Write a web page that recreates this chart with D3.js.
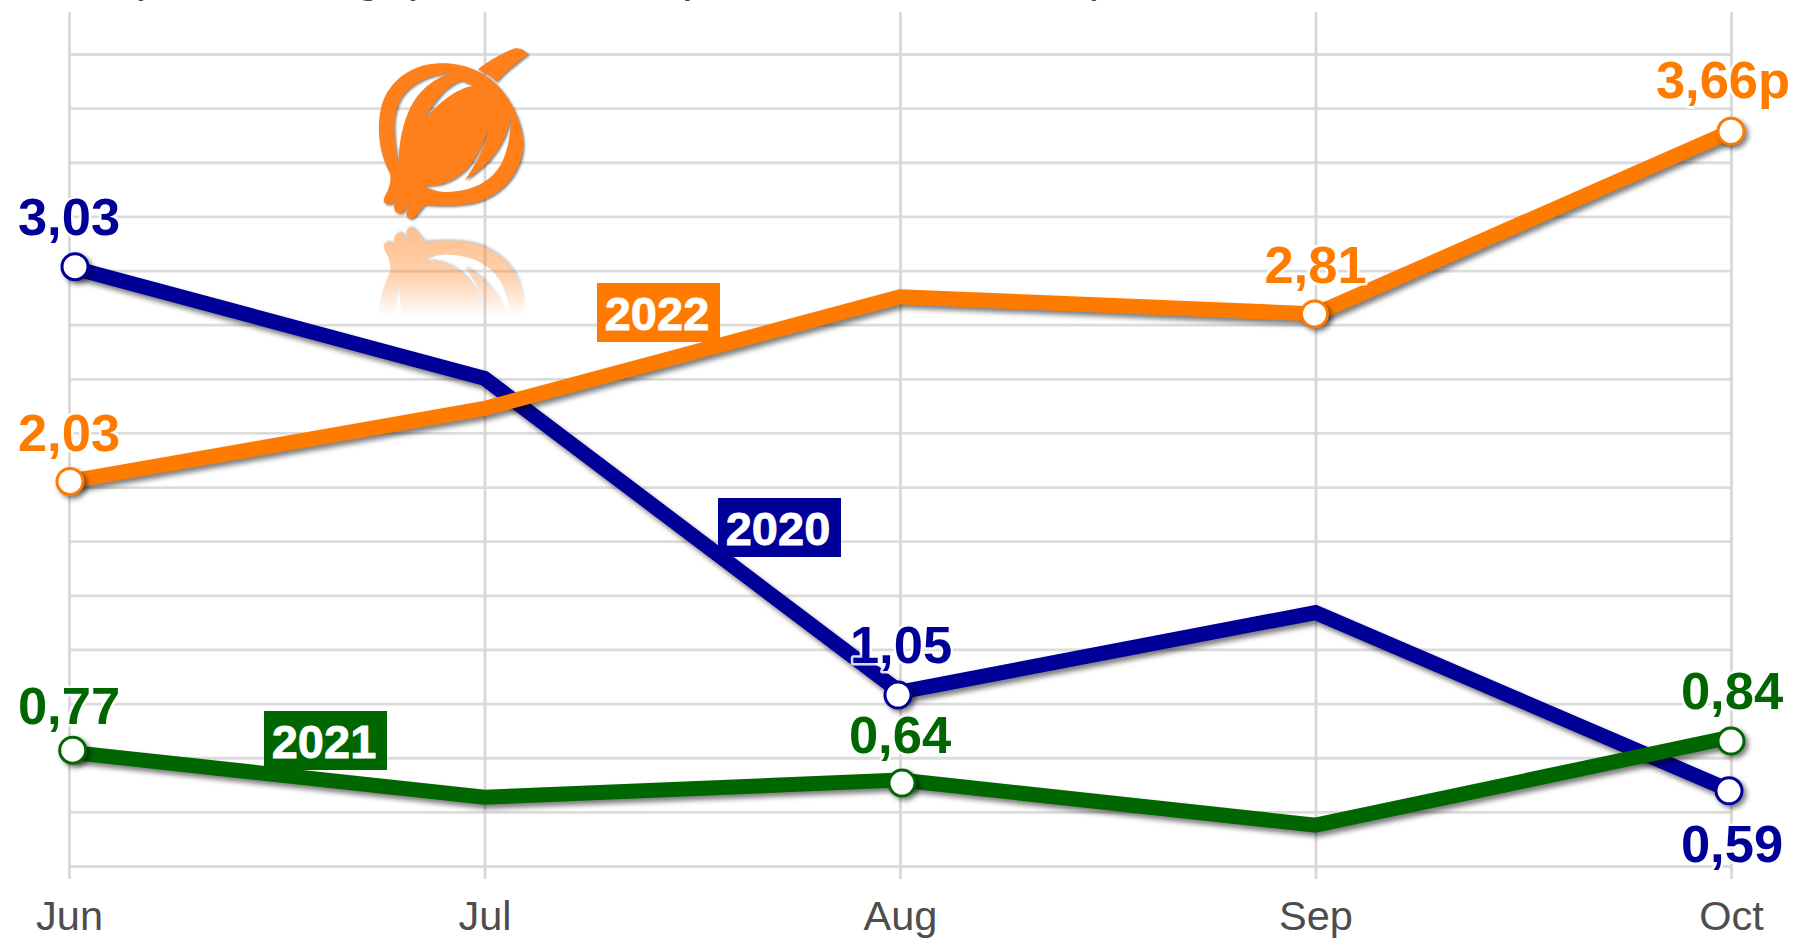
<!DOCTYPE html>
<html>
<head>
<meta charset="utf-8">
<script src="https://cdn.jsdelivr.net/npm/d3@7"></script>
<style>
	body { margin: 0; background: #fff; }
	text { font-family: "Liberation Sans", Arial, sans-serif; }
</style>
</head>
<body>
<div id="chart"></div>
<script>
var months = ['Jun', 'Jul', 'Aug', 'Sep', 'Oct'];
var values2020 = [3.03, 2.51, 1.05, 1.42, 0.59];
var values2021 = [0.77, 0.56, 0.64, 0.43, 0.84];
var values2022 = [2.03, 2.37, 2.89, 2.81, 3.66];
var years = ['2020', '2022', '2021'];
var colors = { '2020': '#000099', '2021': '#006600', '2022': '#ff7b00' };

// which months carry a marker and a value label
var labelled = {
	'2020': [0, 2, 4],
	'2021': [0, 2, 4],
	'2022': [0, 3, 4]
};

var width = 1795,
	height = 940,
	onionColor = '#ff7f1a';

var series = {
	'2020': values2020,
	'2021': values2021,
	'2022': values2022
};

var svg = d3.select('#chart').append('svg')
	.attr('width', width)
	.attr('height', height)
	.style('display', 'block');

var x = d3.scalePoint().domain(months).range([69, 1731]);
var y = d3.scaleLinear().domain([0.24, 4.02]).range([866, 54]);

var defs = svg.append('defs');

// the title of the source is cut off by the top edge, only its descenders remain
var titleBits = [')', 'g', '(', 'p', ')'];
var titleX = [146, 368, 408, 695, 1099];
svg.selectAll('.titleBit')
	.data(titleBits)
	.enter().append('text')
		.attr('class', 'titleBit')
		.attr('x', function(d, i) { return titleX[i]; })
		.attr('y', -9)
		.attr('text-anchor', 'middle')
		.attr('font-size', 46)
		.attr('fill', '#444')
		.text(function(d) { return d; });

// grid
var gridValues = d3.range(16).map(function(i) { return 0.24 + i * 0.252; });

var hGrid = svg.append('g')
	.attr('transform', 'translate(69,0)')
	.call(d3.axisLeft(y).tickValues(gridValues).tickSize(-1662).tickFormat(''));
hGrid.select('.domain').remove();
hGrid.selectAll('line').attr('stroke', '#dcdcdc').attr('stroke-width', 2.8);

var xAxis = svg.append('g')
	.attr('transform', 'translate(0,879)')
	.call(d3.axisBottom(x).tickSize(-867).tickPadding(22));
xAxis.select('.domain').remove();
xAxis.selectAll('line').attr('stroke', '#d8d8d8').attr('stroke-width', 2.8);
xAxis.selectAll('text')
	.attr('font-size', 41.5)
	.attr('font-family', '"Liberation Sans", Arial, sans-serif')
	.attr('fill', '#4d4d4d');

// onion logo, traced at 3x
var onionBody = 'M150,430 C118,370 110,300 122,240 C135,170 200,102 300,100 C370,98 440,125 485,180 ' +
	'C525,230 550,290 550,345 C548,410 505,480 430,510 C385,528 320,530 255,525 ' +
	'C240,540 230,560 215,566 C204,568 196,558 200,545 L212,515 C200,530 192,552 178,550 ' +
	'C165,548 160,535 163,522 L168,510 C160,520 150,526 140,522 C128,518 130,508 135,498 C148,475 155,455 150,430 Z ' +
	'M330,130 C270,135 205,160 178,215 C158,255 158,320 177,402 C175,330 195,240 240,190 C265,160 300,140 330,130 Z ' +
	'M365,152 C320,165 285,210 252,270 C290,225 345,175 402,167 Z ' +
	'M447,290 C430,340 405,400 365,430 C330,460 290,470 250,467 C280,482 300,488 330,486 ' +
	'C400,482 455,455 485,400 C505,360 512,310 513,262 C500,320 470,395 375,450 C410,400 435,350 447,290 Z';
var onionStem = 'M414,118 C450,90 490,68 525,55 C540,53 555,62 565,73 C530,100 495,125 470,155 C455,140 435,128 414,118 Z';

var grad = defs.append('linearGradient').attr('id', 'fade')
	.attr('gradientUnits', 'userSpaceOnUse')
	.attr('x1', 0).attr('y1', 600).attr('x2', 0).attr('y2', 860);
grad.append('stop').attr('offset', 0).attr('stop-color', '#fff').attr('stop-opacity', 0.5);
grad.append('stop').attr('offset', 0.55).attr('stop-color', '#fff').attr('stop-opacity', 0.35);
grad.append('stop').attr('offset', 1).attr('stop-color', '#fff').attr('stop-opacity', 0);
defs.append('mask').attr('id', 'fadeMask')
	.attr('maskUnits', 'userSpaceOnUse')
	.attr('x', 0).attr('y', 560).attr('width', 700).attr('height', 320)
	.append('rect')
		.attr('x', 0).attr('y', 560).attr('width', 700).attr('height', 320)
		.attr('fill', 'url(#fade)');

var logo = svg.append('g').attr('transform', 'translate(340,30) scale(0.3333)');

function drawOnion(g) {
	g.append('path').attr('d', onionBody).attr('fill', onionColor).attr('fill-rule', 'evenodd');
	g.append('path').attr('d', onionStem).attr('fill', onionColor);
}
var logoShadow = 'drop-shadow(4px 4px 2.5px rgba(0,0,0,0.5))';
drawOnion(logo.append('g').style('filter', logoShadow));
drawOnion(logo.append('g').attr('mask', 'url(#fadeMask)')
	.append('g').attr('transform', 'translate(0,1160) scale(1,-1)')
	.style('filter', logoShadow));

// lines
var line = d3.line()
	.x(function(d, i) { return x(months[i]); })
	.y(function(d) { return y(d); });

svg.selectAll('.line')
	.data(years)
	.enter().append('path')
		.attr('class', 'line')
		.attr('d', function(d) { return line(series[d]); })
		.attr('fill', 'none')
		.attr('stroke', function(d) { return colors[d]; })
		.attr('stroke-width', 15)
		.attr('stroke-linejoin', 'miter')
		.style('filter', 'drop-shadow(3px 4px 2.5px rgba(0,0,0,0.5))');

// year tags
var tagYears = ['2020', '2021', '2022'];
var tagX = [718, 264, 597];
var tagY = [498, 711, 283];

svg.selectAll('.tag')
	.data(tagYears)
	.enter().append('rect')
		.attr('class', 'tag')
		.attr('x', function(d, i) { return tagX[i]; })
		.attr('y', function(d, i) { return tagY[i]; })
		.attr('width', 123)
		.attr('height', 59)
		.attr('fill', function(d) { return colors[d]; });

svg.selectAll('.tagText')
	.data(tagYears)
	.enter().append('text')
		.attr('class', 'tagText')
		.attr('x', function(d, i) { return tagX[i] + 60; })
		.attr('y', function(d, i) { return tagY[i] + 47; })
		.attr('text-anchor', 'middle')
		.attr('font-size', 47)
		.attr('font-weight', 'bold')
		.attr('fill', '#fff')
		.attr('stroke', '#fff')
		.attr('stroke-width', 0.8)
		.text(function(d) { return d; });

// value labels and markers, flat list built from the arrays above
var points = [];
tagYears.forEach(function(year) {
	labelled[year].forEach(function(m) {
		points.push({ year: year, month: months[m], value: series[year][m] });
	});
});

// the round markers and labels sit slightly off the exact data position
var markerDx = [6, -2, -2, 3.7, 2, 0, 1, -1, 0];
var markerDy = [0, 3, 0, -2, 3, 4, 0, 0, 0];
var labelDx = [0, 1, 1, 0, 0, 1, 0, 0, -8];
var labelDy = [-32, -29, 71, -28, -27, -28, -30, -31, -33];

// white halo first, then the figure on top with a hair of its own colour
svg.selectAll('.valueLabel')
	.data(points)
	.enter().append('text')
		.attr('class', 'valueLabel')
		.attr('x', function(d, i) { return x(d.month) + labelDx[i]; })
		.attr('y', function(d, i) { return y(d.value) + labelDy[i]; })
		.attr('text-anchor', 'middle')
		.attr('font-size', 52.5)
		.attr('font-weight', 'bold')
		.attr('fill', function(d) { return colors[d.year]; })
		.attr('stroke', 'rgba(255,255,255,0.85)')
		.attr('stroke-width', 5)
		.attr('stroke-linejoin', 'round')
		.attr('paint-order', 'stroke')
		.text(function(d) {
			var s = d.value.toFixed(2).replace('.', ',');
			return d.value === 3.66 ? s + 'p' : s;
		});

svg.selectAll('.dot')
	.data(points)
	.enter().append('circle')
		.attr('class', 'dot')
		.attr('cx', function(d, i) { return x(d.month) + markerDx[i]; })
		.attr('cy', function(d, i) { return y(d.value) + markerDy[i]; })
		.attr('r', 13)
		.attr('fill', '#fff')
		.attr('stroke', function(d) { return colors[d.year]; })
		.attr('stroke-width', 3)
		.style('filter', 'drop-shadow(3px 3px 2.5px rgba(0,0,0,0.5))');
</script>
</body>
</html>
